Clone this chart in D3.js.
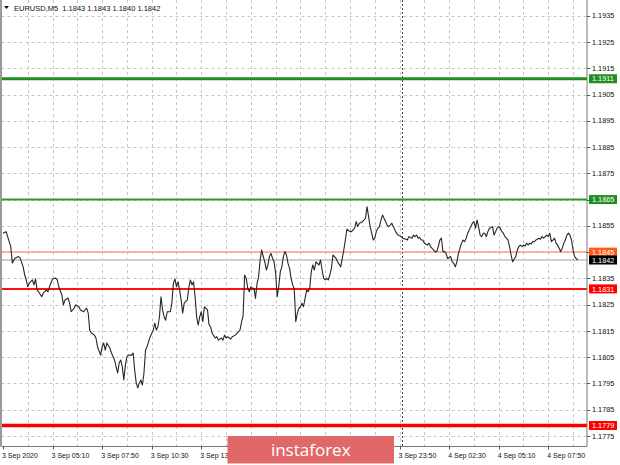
<!DOCTYPE html>
<html><head><meta charset="utf-8">
<script src="https://cdn.jsdelivr.net/npm/d3@7"></script>
<style>body{margin:0;background:#fff}svg{display:block}</style>
</head><body>
<script>
// ---------- DATA ----------
const symbolTitle = "EURUSD,M5";
const ohlcValues = ["1.1843", "1.1843", "1.1840", "1.1842"];
const yTickValues = [1.1775, 1.1785, 1.1795, 1.1805, 1.1815, 1.1825, 1.1835, 1.1845, 1.1855,
  1.1865, 1.1875, 1.1885, 1.1895, 1.1905, 1.1915, 1.1925, 1.1935];
const xTickBars = [0, 32, 64, 96, 128, 160, 192, 224, 256, 288, 320, 352];
const xTickLabels = ["3 Sep 2020", "3 Sep 05:10", "3 Sep 07:50", "3 Sep 10:30", "3 Sep 13:10",
  "3 Sep 15:50", "3 Sep 18:30", "3 Sep 21:10", "3 Sep 23:50", "4 Sep 02:30", "4 Sep 05:10", "4 Sep 07:50"];
const gridBars = d3.range(16, 377, 16);
const separatorBar = 258;
const levelPrices = [1.1911, 1.1865, 1.1845, 1.1842, 1.1831, 1.1779];
const levelLabels = ["1.1911", "1.1865", "1.1845", "1.1842", "1.1831", "1.1779"];
const logoText = "instaforex";
// [bar index (M5 bars from 3 Sep 02:30), close price]
const closeSeries = [
[0,1.18522],[2,1.18528],[3,1.18509],[5,1.18471],[6,1.18409],[7,1.18420],[8,1.18428],[10,1.18433],
[11,1.18428],[13,1.18394],[14,1.18363],[15,1.18344],[16,1.18318],[17,1.18332],[19,1.18344],[20,1.18325],
[21,1.18348],[22,1.18306],[23,1.18299],[25,1.18280],[26,1.18294],[28,1.18306],[29,1.18299],[30,1.18318],
[32,1.18348],[34,1.18351],[35,1.18344],[36,1.18318],[38,1.18287],[39,1.18249],[40,1.18268],[42,1.18275],
[43,1.18256],[44,1.18223],[46,1.18237],[47,1.18249],[49,1.18242],[50,1.18230],[52,1.18223],[54,1.18237],
[55,1.18218],[56,1.18153],[57,1.18142],[59,1.18134],[60,1.18123],[61,1.18090],[63,1.18058],[64,1.18090],
[65,1.18104],[66,1.18077],[67,1.18104],[69,1.18085],[70,1.18066],[72,1.18039],[73,1.18014],[74,1.17990],
[75,1.18028],[76,1.18039],[77,1.18014],[78,1.17963],[79,1.18020],[80,1.18052],[81,1.18058],[83,1.18058],
[84,1.18066],[85,1.18001],[86,1.17952],[87,1.17933],[88,1.17952],[89,1.17963],[90,1.17944],[91,1.17990],
[92,1.18077],[93,1.18090],[94,1.18109],[95,1.18128],[97,1.18153],[98,1.18180],[99,1.18153],[100,1.18166],
[101,1.18204],[102,1.18280],[103,1.18230],[104,1.18204],[105,1.18191],[106,1.18223],[108,1.18223],[109,1.18256],
[110,1.18332],[111,1.18348],[112,1.18318],[113,1.18337],[114,1.18306],[115,1.18268],[116,1.18218],[117,1.18256],
[119,1.18268],[120,1.18318],[121,1.18344],[122,1.18325],[123,1.18337],[124,1.18280],[125,1.18204],[126,1.18172],
[127,1.18204],[128,1.18223],[129,1.18185],[130,1.18242],[132,1.18230],[133,1.18174],[134,1.18166],[135,1.18141],
[137,1.18123],[138,1.18128],[139,1.18115],[141,1.18123],[142,1.18115],[143,1.18134],[144,1.18123],[145,1.18128],
[147,1.18119],[148,1.18128],[150,1.18134],[151,1.18141],[153,1.18153],[154,1.18185],[155,1.18207],[156,1.18363],
[157,1.18350],[158,1.18312],[159,1.18299],[160,1.18318],[161,1.18312],[162,1.18312],[163,1.18274],[164,1.18331],
[165,1.18356],[166,1.18420],[167,1.18458],[168,1.18433],[169,1.18413],[170,1.18382],[171,1.18401],[172,1.18433],
[173,1.18445],[174,1.18426],[175,1.18413],[176,1.18369],[177,1.18280],[178,1.18318],[179,1.18375],[180,1.18394],
[181,1.18433],[182,1.18452],[183,1.18439],[184,1.18407],[185,1.18388],[186,1.18350],[187,1.18325],[188,1.18312],
[189,1.18185],[190,1.18217],[191,1.18236],[192,1.18242],[193,1.18255],[194,1.18242],[195,1.18274],[196,1.18306],
[197,1.18299],[198,1.18312],[199,1.18375],[200,1.18401],[201,1.18382],[202,1.18413],[204,1.18401],[205,1.18420],
[206,1.18382],[207,1.18350],[208,1.18344],[209,1.18350],[210,1.18344],[211,1.18363],[212,1.18388],[213,1.18439],
[214,1.18433],[215,1.18426],[216,1.18413],[218,1.18394],[219,1.18426],[220,1.18458],[221,1.18496],[222,1.18537],
[224,1.18528],[225,1.18528],[227,1.18541],[228,1.18566],[229,1.18547],[230,1.18560],[232,1.18566],[233,1.18572],
[234,1.18579],[235,1.18623],[236,1.18585],[237,1.18547],[238,1.18522],[239,1.18496],[240,1.18503],[241,1.18528],
[242,1.18541],[243,1.18547],[244,1.18572],[245,1.18591],[247,1.18566],[248,1.18553],[249,1.18547],[250,1.18553],
[251,1.18560],[252,1.18547],[254,1.18522],[255,1.18515],[257,1.18509],[258,1.18503],[260,1.18499],[261,1.18496],
[262,1.18509],[264,1.18503],[265,1.18515],[266,1.18509],[267,1.18515],[268,1.18503],[269,1.18506],[270,1.18496],
[271,1.18496],[272,1.18484],[274,1.18477],[275,1.18484],[276,1.18471],[277,1.18464],[278,1.18458],[279,1.18452],
[280,1.18452],[281,1.18471],[282,1.18496],[283,1.18503],[284,1.18452],[285,1.18452],[286,1.18445],[287,1.18426],
[289,1.18433],[290,1.18413],[291,1.18407],[292,1.18394],[293,1.18413],[294,1.18445],[295,1.18464],[296,1.18484],
[297,1.18496],[298,1.18490],[299,1.18503],[300,1.18522],[302,1.18547],[303,1.18560],[304,1.18566],[305,1.18541],
[306,1.18572],[307,1.18547],[308,1.18515],[309,1.18509],[310,1.18522],[311,1.18522],[312,1.18509],[313,1.18528],
[314,1.18541],[316,1.18547],[317,1.18515],[318,1.18528],[319,1.18541],[320,1.18547],[321,1.18541],[322,1.18528],
[323,1.18522],[324,1.18509],[325,1.18503],[326,1.18496],[327,1.18471],[328,1.18439],[329,1.18413],[331,1.18433],
[332,1.18458],[333,1.18471],[334,1.18477],[335,1.18471],[336,1.18477],[337,1.18473],[338,1.18484],[339,1.18477],
[340,1.18484],[341,1.18481],[342,1.18490],[343,1.18490],[344,1.18496],[346,1.18503],[347,1.18499],[348,1.18509],
[349,1.18503],[350,1.18509],[351,1.18515],[352,1.18509],[353,1.18522],[354,1.18490],[355,1.18496],[356,1.18503],
[357,1.18484],[358,1.18477],[360,1.18452],[361,1.18464],[362,1.18484],[363,1.18496],[364,1.18515],[365,1.18522],
[366,1.18515],[367,1.18496],[368,1.18458],[369,1.18433],[370,1.18426],[371,1.18420]
];

// ---------- STYLES ----------
const levelStyles = [
  {stroke: "#1f8f1f", width: 3, box: "#1f8f1f", text: "#fff"},
  {stroke: "#2e9a2e", width: 2, box: "#1f8f1f", text: "#fff"},
  {stroke: "#ff9c78", width: 1.5, box: "#ff5a1a", text: "#fff"},
  {stroke: "#cfcfcf", width: 2, box: "#000000", text: "#fff"},
  {stroke: "#ff1010", width: 2, box: "#ff0000", text: "#fff"},
  {stroke: "#ff0000", width: 3.5, box: "#ff0000", text: "#fff"}
];
const W = 620, H = 465;
const plotL = 1.5, plotR = 587, plotT = 0, plotB = 446.5;
const font = "'Liberation Sans', Arial, sans-serif";
const logoBox = {x: 227.5, y: 436, w: 166.5, h: 27.5};

const x = d3.scaleLinear().domain([0, 377]).range([3, 587]);
const y = d3.scaleLinear().domain([1.1775, 1.1935]).range([436, 15.7]);

const svg = d3.select("body").append("svg").attr("width", W).attr("height", H);
svg.append("rect").attr("width", W).attr("height", H).attr("fill", "#fff");

svg.append("defs").append("clipPath").attr("id", "clip")
  .append("rect").attr("x", plotL).attr("y", plotT).attr("width", plotR - plotL).attr("height", plotB - plotT);

const plot = svg.append("g").attr("clip-path", "url(#clip)");

// horizontal grid
plot.append("g").selectAll("line").data(yTickValues).join("line")
  .attr("x1", plotL).attr("x2", plotR)
  .attr("y1", d => Math.round(y(d)) + 0.5).attr("y2", d => Math.round(y(d)) + 0.5)
  .attr("stroke", "#c6c6c6").attr("stroke-width", 1).attr("stroke-dasharray", "3,3");
// vertical grid
plot.append("g").selectAll("line").data(gridBars).join("line")
  .attr("x1", d => Math.round(x(d)) + 0.5).attr("x2", d => Math.round(x(d)) + 0.5)
  .attr("y1", plotT).attr("y2", plotB)
  .attr("stroke", "#c6c6c6").attr("stroke-width", 1).attr("stroke-dasharray", "3,3");
// period separator
plot.append("line")
  .attr("x1", Math.round(x(separatorBar)) - 0.5).attr("x2", Math.round(x(separatorBar)) - 0.5)
  .attr("y1", plotT).attr("y2", plotB)
  .attr("stroke", "#444").attr("stroke-width", 1).attr("stroke-dasharray", "2,2");

// level lines
plot.append("g").selectAll("line").data(levelPrices).join("line")
  .attr("x1", plotL).attr("x2", plotR)
  .attr("y1", d => y(d)).attr("y2", d => y(d))
  .attr("stroke", (d, i) => levelStyles[i].stroke)
  .attr("stroke-width", (d, i) => levelStyles[i].width);

// price line
const line = d3.line().x(d => x(d[0])).y(d => y(d[1]));
plot.append("path").datum(closeSeries).attr("d", line)
  .attr("fill", "none").attr("stroke", "#262626").attr("stroke-width", 1.1)
  .attr("stroke-linejoin", "round");

// frame
svg.append("path")
  .attr("d", `M${plotL},${plotT}V${plotB}H${plotR}V${plotT}`)
  .attr("fill", "none").attr("stroke", "#777").attr("stroke-width", 1);
svg.append("line").attr("x1", 1).attr("x2", 1).attr("y1", 0).attr("y2", plotB)
  .attr("stroke", "#9a9a9a").attr("stroke-width", 2);

// right axis ticks + labels
const ya = svg.append("g");
ya.selectAll("line").data(yTickValues).join("line")
  .attr("x1", plotR).attr("x2", plotR + 3)
  .attr("y1", d => Math.round(y(d)) + 0.5).attr("y2", d => Math.round(y(d)) + 0.5)
  .attr("stroke", "#555");
ya.selectAll("text").data(yTickValues).join("text")
  .attr("x", plotR + 5).attr("y", d => y(d)).attr("dy", "0.36em")
  .attr("font-family", font).attr("font-size", 7.3).attr("fill", "#111")
  .text(d => d.toFixed(4));

// bottom axis ticks + labels (labels fully hidden behind the watermark are not drawn)
const xa = svg.append("g");
xa.selectAll("line").data(xTickBars).join("line")
  .attr("x1", d => Math.round(x(d)) + 0.5).attr("x2", d => Math.round(x(d)) + 0.5)
  .attr("y1", plotB).attr("y2", plotB + 3).attr("stroke", "#555");
const visibleX = xTickBars.map((b, i) => ({b, label: xTickLabels[i]}))
  .filter(d => !(x(d.b) - 1 > logoBox.x && x(d.b) - 1 < logoBox.x + logoBox.w));
xa.selectAll("text").data(visibleX).join("text")
  .attr("x", d => x(d.b) - 1).attr("y", 458)
  .attr("font-family", font).attr("font-size", 7).attr("fill", "#111")
  .text(d => d.label);

// level label boxes
const boxes = svg.append("g").selectAll("g").data(levelPrices).join("g")
  .attr("transform", d => `translate(${plotR + 2},${y(d)})`);
boxes.append("rect").attr("x", 0).attr("y", -4.5).attr("width", 28).attr("height", 9)
  .attr("fill", (d, i) => levelStyles[i].box);
boxes.append("text").attr("x", 3).attr("y", 0).attr("dy", "0.36em")
  .attr("font-family", font).attr("font-size", 7.3)
  .attr("fill", (d, i) => levelStyles[i].text)
  .text((d, i) => levelLabels[i]);

// title
svg.append("path").attr("d", "M4,6 L9,6 L6.5,9 Z").attr("fill", "#111");
svg.append("text").attr("x", 14).attr("y", 10.5)
  .attr("font-family", font).attr("font-size", 7.5).attr("fill", "#111")
  .attr("xml:space", "preserve")
  .text(symbolTitle + "  " + ohlcValues.join(" "));

// watermark logo
const logo = svg.append("g");
logo.append("rect").attr("x", logoBox.x).attr("y", logoBox.y).attr("width", logoBox.w).attr("height", logoBox.h)
  .attr("fill", "#e06868");
logo.append("text").attr("x", logoBox.x + logoBox.w / 2).attr("y", 455.5).attr("text-anchor", "middle")
  .attr("font-family", "'Open Sans', sans-serif").attr("font-size", 17).attr("fill", "#fff")
  .text(logoText);
</script>
</body></html>
